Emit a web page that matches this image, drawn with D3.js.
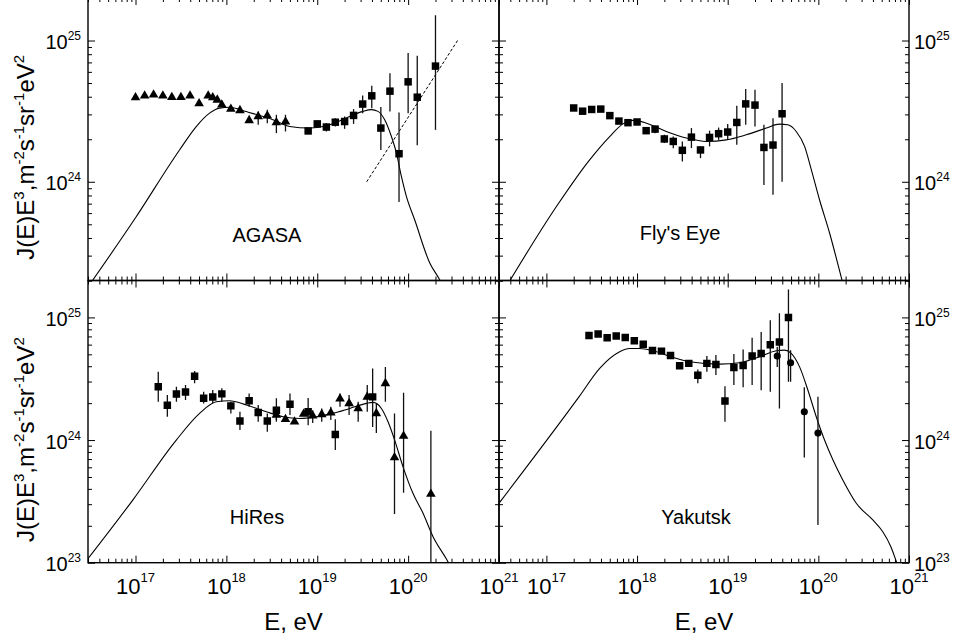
<!DOCTYPE html>
<html>
<head>
<meta charset="utf-8">
<script src="https://cdn.jsdelivr.net/npm/d3@7"></script>
<style>
  body { margin: 0; background: #fff; }
  svg { display: block; }
</style>
</head>
<body>
<svg id="chart" width="953" height="640"></svg>
<script>
const FONT = "'Liberation Sans', Arial, Helvetica, sans-serif";

// ---- axis setup ----
const xDomain = [3e16, 1e21];
const xTickExps = ["17", "18", "19", "20", "21"];
const yTickExps = ["23", "24", "25"];
const xTitle = "E, eV";
const yTitleParts = [
    ["J(E)E", false], ["3", true], [",m", false], ["-2", true], ["s", false],
    ["-1", true], ["sr", false], ["-1", true], ["eV", false], ["2", true],
];

// ---- AGASA ----
const agasaTriE = [1.0e17, 1.26e17, 1.58e17, 2.0e17, 2.51e17, 3.16e17, 3.98e17, 5.01e17, 6.31e17, 7.08e17,
    7.94e17, 8.91e17, 1.12e18, 1.41e18, 1.78e18, 2.24e18, 2.82e18, 3.55e18, 4.47e18];
const agasaTriJ = [3.95e24, 4.06e24, 4.13e24, 4.06e24, 3.97e24, 3.97e24, 4.06e24, 3.58e24, 4.06e24, 3.95e24,
    3.80e24, 3.51e24, 3.27e24, 3.20e24, 2.72e24, 2.90e24, 2.93e24, 2.63e24, 2.66e24];
const agasaTriLo = [null, null, null, null, null, null, null, null, null, null,
    null, null, null, null, null, 2.53e24, 2.60e24, 2.21e24, 2.27e24];
const agasaTriHi = [null, null, null, null, null, null, null, null, null, null,
    null, null, null, null, null, 3.15e24, 3.24e24, 2.98e24, 2.98e24];

const agasaSqE = [7.94e18, 1.0e19, 1.26e19, 1.58e19, 2.0e19, 2.51e19, 3.16e19, 3.98e19, 5.01e19, 6.31e19,
    7.94e19, 1.0e20, 1.26e20, 2.0e20];
const agasaSqJ = [2.29e24, 2.57e24, 2.44e24, 2.64e24, 2.67e24, 2.95e24, 3.55e24, 4.06e24, 2.40e24, 4.38e24,
    1.58e24, 5.10e24, 3.97e24, 6.59e24];
const agasaSqLo = [null, null, 2.27e24, 2.46e24, 2.37e24, 2.57e24, 3.06e24, 3.32e24, 1.68e24, 3.15e24,
    7.2e23, 3.06e24, 1.81e24, 2.33e24];
const agasaSqHi = [null, null, 2.60e24, 2.82e24, 2.90e24, 3.27e24, 4.08e24, 4.78e24, 3.38e24, 5.87e24,
    3.09e24, 8.15e24, 7.8e24, 1.51e25];

const agasaFitE = [3.5e19, 3.5e20];
const agasaFitJ = [1.0e24, 1.0e25];

const agasaCurveE = [2.82e16, 1.0e17, 3.05e17, 4.66e17, 6.53e17, 8.41e17, 1.08e18, 1.65e18, 3.25e18, 4.97e18,
    8.24e18, 1.37e19, 2.28e19, 3.18e19, 3.94e19, 4.66e19, 5.52e19, 6.55e19, 7.43e19, 8.43e19,
    9.57e19, 1.18e20, 1.73e20, 2.23e20, 2.5e20];
const agasaCurveJ = [1.7e23, 5.56e23, 1.68e24, 2.46e24, 3.06e24, 3.32e24, 3.37e24, 3.14e24, 2.75e24, 2.46e24,
    2.40e24, 2.53e24, 2.90e24, 3.15e24, 3.24e24, 3.15e24, 2.75e24, 2.09e24, 1.60e24, 1.09e24,
    7.87e23, 5.38e23, 2.66e23, 2.02e23, 1.75e23];

// ---- Fly's Eye ----
const flysE = [2.0e17, 2.51e17, 3.16e17, 3.98e17, 5.01e17, 6.31e17, 7.94e17, 1.0e18, 1.26e18, 1.58e18,
    2.0e18, 2.51e18, 3.16e18, 3.98e18, 5.01e18, 6.31e18, 7.94e18, 1.0e19, 1.26e19, 1.58e19,
    2.0e19, 2.51e19, 3.16e19, 3.98e19];
const flysJ = [3.33e24, 3.16e24, 3.25e24, 3.27e24, 2.94e24, 2.69e24, 2.62e24, 2.65e24, 2.30e24, 2.36e24,
    2.01e24, 1.93e24, 1.67e24, 2.07e24, 1.68e24, 2.06e24, 2.19e24, 2.25e24, 2.63e24, 3.56e24,
    3.49e24, 1.75e24, 1.82e24, 3.03e24];
const flysLo = [null, null, null, null, null, null, null, null, null, 2.21e24,
    1.88e24, 1.73e24, 1.39e24, 1.73e24, 1.47e24, 1.78e24, 1.98e24, 1.98e24, 1.83e24, 2.53e24,
    2.46e24, 9.5e23, 8.1e23, 1.0e24];
const flysHi = [null, null, null, null, null, null, null, null, null, 2.49e24,
    2.15e24, 2.09e24, 1.93e24, 2.40e24, 1.78e24, 2.30e24, 2.42e24, 2.56e24, 3.45e24, 4.53e24,
    4.48e24, 2.53e24, 2.82e24, 5.0e24];

const flysCurveE = [3.55e16, 1.29e17, 3.0e17, 4.99e17, 7.0e17, 9.02e17, 1.27e18, 2.10e18, 3.50e18, 5.81e18,
    9.66e18, 1.60e19, 2.67e19, 3.73e19, 4.61e19, 5.70e19, 7.05e19, 8.36e19, 1.03e20, 1.33e20,
    1.82e20, 2.0e20];
const flysCurveJ = [1.78e23, 6.68e23, 1.43e24, 2.09e24, 2.57e24, 2.72e24, 2.60e24, 2.27e24, 2.04e24, 1.93e24,
    1.98e24, 2.15e24, 2.40e24, 2.56e24, 2.53e24, 2.27e24, 1.78e24, 1.22e24, 7.46e23, 4.34e23,
    2.02e23, 1.6e23];

// ---- HiRes ----
const hiresSqE = [1.78e17, 2.24e17, 2.82e17, 3.55e17, 4.47e17, 5.62e17, 7.08e17, 8.91e17, 1.12e18, 1.41e18,
    1.78e18, 2.24e18, 2.82e18, 3.55e18, 5.01e18, 7.94e18, 1.58e19, 4.07e19];
const hiresSqJ = [2.72e24, 1.92e24, 2.37e24, 2.46e24, 3.32e24, 2.19e24, 2.24e24, 2.38e24, 1.90e24, 1.43e24,
    2.09e24, 1.68e24, 1.43e24, 1.75e24, 1.96e24, 1.70e24, 1.11e24, 2.25e24];
const hiresSqLo = [2.05e24, 1.55e24, 2.05e24, 2.12e24, 2.90e24, 1.99e24, 1.99e24, 2.05e24, 1.65e24, 1.21e24,
    1.87e24, 1.41e24, 1.17e24, 1.46e24, 1.60e24, 1.32e24, 8.3e23, 1.28e24];
const hiresSqHi = [3.60e24, 2.33e24, 2.72e24, 2.81e24, 3.65e24, 2.48e24, 2.56e24, 2.64e24, 2.05e24, 1.70e24,
    2.40e24, 1.93e24, 1.65e24, 2.19e24, 2.40e24, 2.20e24, 1.48e24, 3.84e24];

const hiresTriE = [3.55e18, 4.47e18, 5.62e18, 7.08e18, 8.91e18, 1.12e19, 1.41e19, 1.78e19, 2.24e19, 2.82e19,
    3.55e19, 4.47e19, 5.62e19, 7.08e19, 8.91e19, 1.78e20];
const hiresTriJ = [1.60e24, 1.48e24, 1.41e24, 1.63e24, 1.58e24, 1.62e24, 1.67e24, 2.17e24, 1.99e24, 1.81e24,
    2.25e24, 1.65e24, 2.90e24, 7.2e23, 1.08e24, 3.63e23];
const hiresTriLo = [1.41e24, null, null, null, 1.38e24, 1.41e24, 1.46e24, 1.87e24, 1.60e24, 1.41e24,
    1.70e24, 1.14e24, 2.05e24, 2.49e23, 3.72e23, 5e22];
const hiresTriHi = [1.87e24, null, null, null, 1.75e24, 1.81e24, 1.87e24, 2.40e24, 2.33e24, 2.05e24,
    2.81e24, 1.99e24, 3.95e24, 1.65e24, 2.43e24, 1.19e24];

const hiresCurveE = [2.51e16, 9.33e16, 2.81e17, 5.07e17, 7.74e17, 1.08e18, 1.66e18, 2.75e18, 4.19e18, 6.40e18,
    9.77e18, 1.49e19, 2.28e19, 3.48e19, 4.10e19, 5.08e19, 6.01e19, 7.11e19, 8.79e19, 1.13e20,
    1.46e20, 1.88e20, 2.64e20, 2.82e20];
const hiresCurveJ = [9.1e22, 3.24e23, 1.0e24, 1.65e24, 2.05e24, 2.09e24, 1.93e24, 1.70e24, 1.55e24, 1.50e24,
    1.55e24, 1.65e24, 1.81e24, 1.99e24, 2.03e24, 1.81e24, 1.41e24, 1.0e24, 6.05e23, 3.68e23,
    2.53e23, 1.63e23, 1.07e23, 9.8e22];

// ---- Yakutsk ----
const yakSqE = [2.95e17, 3.72e17, 4.68e17, 5.89e17, 7.41e17, 9.33e17, 1.17e18, 1.48e18, 1.86e18, 2.34e18,
    2.95e18, 3.72e18, 4.68e18, 5.89e18, 7.41e18, 9.33e18, 1.17e19, 1.48e19, 1.86e19, 2.34e19,
    2.95e19, 3.72e19, 4.68e19];
const yakSqJ = [7.13e24, 7.31e24, 6.82e24, 7.04e24, 6.87e24, 6.44e24, 6.03e24, 5.38e24, 5.31e24, 4.90e24,
    4.03e24, 4.22e24, 3.37e24, 4.22e24, 4.14e24, 2.08e24, 3.91e24, 4.06e24, 4.84e24, 5.09e24,
    5.98e24, 6.29e24, 1.0e25];
const yakSqLo = [null, null, null, null, null, null, null, null, null, null,
    null, null, 2.90e24, 3.60e24, 3.39e24, 1.41e24, 2.81e24, 2.69e24, 2.81e24, 2.55e24,
    2.48e24, 1.81e24, 2.99e24];
const yakSqHi = [null, null, null, null, null, null, null, null, null, null,
    null, null, 3.77e24, 4.84e24, 4.93e24, 2.75e24, 5.02e24, 5.48e24, 6.84e24, 7.59e24,
    9.5e24, 1.08e25, 1.69e25];

const yakCircE = [3.52e19, 4.94e19, 7.0e19, 9.9e19];
const yakCircJ = [4.84e24, 4.27e24, 1.70e24, 1.14e24];
const yakCircLo = [3.95e24, 2.99e24, 7.2e23, 2.03e23];
const yakCircHi = [5.75e24, 5.41e24, 2.69e24, 2.25e24];

const yakCurveE = [2.51e16, 2.33e17, 3.87e17, 6.43e17, 8.28e17, 1.07e18, 1.50e18, 2.49e18, 3.80e18, 8.15e18,
    1.35e19, 2.25e19, 3.44e19, 4.24e19, 5.02e19, 6.21e19, 7.66e19, 9.48e19, 1.17e20, 1.45e20,
    1.86e20, 2.62e20, 3.99e20, 5.14e20, 6.31e20, 7.33e20, 7.94e20];
const yakCurveJ = [2.57e23, 2.29e24, 3.84e24, 5.25e24, 5.58e24, 5.58e24, 5.35e24, 4.72e24, 4.35e24, 4.16e24,
    4.27e24, 4.78e24, 5.35e24, 5.41e24, 5.09e24, 3.95e24, 2.56e24, 1.55e24, 1.0e24, 6.87e23,
    4.72e23, 3.05e23, 2.23e23, 1.79e23, 1.35e23, 1.0e23, 8.5e22];

// ---- panel layout ----
const panels = [
    {
        id: "agasa", label: "AGASA", lx: 267, ly: 242,
        x0: 88, x1: 499, y0: -2, y1: 280.5, yDomain: [2e23, 2e25], side: "left", xLabels: false,
        curveE: agasaCurveE, curveJ: agasaCurveJ, fitE: agasaFitE, fitJ: agasaFitJ,
        series: [
            { shape: "triangle", E: agasaTriE, J: agasaTriJ, lo: agasaTriLo, hi: agasaTriHi },
            { shape: "square", E: agasaSqE, J: agasaSqJ, lo: agasaSqLo, hi: agasaSqHi },
        ],
    },
    {
        id: "flys", label: "Fly's Eye", lx: 680, ly: 240,
        x0: 499, x1: 909, y0: -2, y1: 280.5, yDomain: [2e23, 2e25], side: "right", xLabels: false,
        curveE: flysCurveE, curveJ: flysCurveJ,
        series: [
            { shape: "square", E: flysE, J: flysJ, lo: flysLo, hi: flysHi },
        ],
    },
    {
        id: "hires", label: "HiRes", lx: 257, ly: 524,
        x0: 88, x1: 499, y0: 280.5, y1: 562.7, yDomain: [1e23, 2e25], side: "left", xLabels: true,
        curveE: hiresCurveE, curveJ: hiresCurveJ,
        series: [
            { shape: "square", E: hiresSqE, J: hiresSqJ, lo: hiresSqLo, hi: hiresSqHi },
            { shape: "triangle", E: hiresTriE, J: hiresTriJ, lo: hiresTriLo, hi: hiresTriHi },
        ],
    },
    {
        id: "yak", label: "Yakutsk", lx: 696, ly: 524,
        x0: 499, x1: 909, y0: 280.5, y1: 562.7, yDomain: [1e23, 2e25], side: "right", xLabels: true,
        curveE: yakCurveE, curveJ: yakCurveJ,
        series: [
            { shape: "square", E: yakSqE, J: yakSqJ, lo: yakSqLo, hi: yakSqHi },
            { shape: "circle", E: yakCircE, J: yakCircJ, lo: yakCircLo, hi: yakCircHi },
        ],
    },
];

const svg = d3.select("#chart");
svg.append("rect").attr("width", 953).attr("height", 640).attr("fill", "#fff");

function logTicks(lo, hi) {
    const major = [], minor = [];
    for (let e = Math.floor(Math.log10(lo)); e <= Math.ceil(Math.log10(hi)); e++) {
        for (let k = 1; k < 10; k++) {
            const v = k * Math.pow(10, e);
            if (v < lo * 0.999 || v > hi * 1.001) continue;
            (k === 1 ? major : minor).push(v);
        }
    }
    return { major, minor };
}

function tickSide(g, axisFn, scale, vals, size, transform) {
    const a = g.append("g")
        .attr("transform", transform)
        .call(axisFn(scale).tickValues(vals).tickSize(-size).tickFormat(""));
    a.select(".domain").remove();
    a.selectAll(".tick line").attr("stroke", "#000").attr("stroke-width", 1);
}

function powLabel(g, x, y, exp, size, supSize, supDy, anchor) {
    const t = g.append("text")
        .attr("x", x).attr("y", y)
        .attr("text-anchor", anchor)
        .style("font-family", FONT)
        .style("font-size", size + "px")
        .attr("fill", "#000");
    t.append("tspan").text("10");
    t.append("tspan").attr("dy", supDy).style("font-size", supSize + "px").text(exp);
}

const symbolTypes = {
    square: d3.symbol(d3.symbolSquare, 56),
    triangle: d3.symbol(d3.symbolTriangle, 40),
    circle: d3.symbol(d3.symbolCircle, 40),
};

panels.forEach((p) => {
    const x = d3.scaleLog().domain(xDomain).range([p.x0, p.x1]);
    const y = d3.scaleLog().domain(p.yDomain).range([p.y1, p.y0]);
    const g = svg.append("g");

    const clipId = "clip-" + p.id;
    svg.append("clipPath").attr("id", clipId)
        .append("rect")
        .attr("x", p.x0).attr("y", p.y0)
        .attr("width", p.x1 - p.x0).attr("height", p.y1 - p.y0);

    const plot = g.append("g").attr("clip-path", `url(#${clipId})`);

    // model curve
    const curvePts = p.curveE.map((e, i) => [e, p.curveJ[i]]);
    plot.append("path")
        .datum(curvePts)
        .attr("fill", "none")
        .attr("stroke", "#000")
        .attr("stroke-width", 1.1)
        .attr("d", d3.line().x((d) => x(d[0])).y((d) => y(d[1])).curve(d3.curveMonotoneX));

    // dashed power-law fit (AGASA only)
    if (p.fitE) {
        const fitPts = p.fitE.map((e, i) => [e, p.fitJ[i]]);
        plot.append("path")
            .datum(fitPts)
            .attr("fill", "none")
            .attr("stroke", "#000")
            .attr("stroke-width", 1)
            .attr("stroke-dasharray", "3,2")
            .attr("d", d3.line().x((d) => x(d[0])).y((d) => y(d[1])));
    }

    // error bars, then markers
    p.series.forEach((s) => {
        const pts = s.E.map((e, i) => ({ e, j: s.J[i], lo: s.lo[i], hi: s.hi[i] }));
        plot.selectAll(null)
            .data(pts.filter((d) => d.lo !== null))
            .join("line")
            .attr("x1", (d) => x(d.e)).attr("x2", (d) => x(d.e))
            .attr("y1", (d) => y(d.lo)).attr("y2", (d) => y(d.hi))
            .attr("stroke", "#111")
            .attr("stroke-width", 1.3);
        plot.selectAll(null)
            .data(pts)
            .join("path")
            .attr("transform", (d) => `translate(${x(d.e)},${y(d.j)})`)
            .attr("d", symbolTypes[s.shape]())
            .attr("fill", "#000");
    });

    // frame
    g.append("rect")
        .attr("x", p.x0).attr("y", p.y0)
        .attr("width", p.x1 - p.x0).attr("height", p.y1 - p.y0)
        .attr("fill", "none")
        .attr("stroke", "#000")
        .attr("stroke-width", 1.4);

    // inward ticks on all four sides
    const xt = logTicks(xDomain[0], xDomain[1]);
    const yt = logTicks(p.yDomain[0], p.yDomain[1]);
    [[xt.major, 7], [xt.minor, 4]].forEach(([vals, size]) => {
        tickSide(g, d3.axisBottom, x, vals, size, `translate(0,${p.y1})`);
        tickSide(g, d3.axisTop, x, vals, size, `translate(0,${p.y0})`);
    });
    [[yt.major, 7], [yt.minor, 4]].forEach(([vals, size]) => {
        tickSide(g, d3.axisLeft, y, vals, size, `translate(${p.x0},0)`);
        tickSide(g, d3.axisRight, y, vals, size, `translate(${p.x1},0)`);
    });

    // y tick labels
    yTickExps.forEach((exp) => {
        const v = Math.pow(10, +exp);
        if (v < p.yDomain[0] * 0.999) return;
        if (p.side === "left") {
            powLabel(g, p.x0 - 7, y(v) + 8.5, exp, 20, 12, -9, "end");
        } else {
            powLabel(g, p.x1 + 5, y(v) + 8.5, exp, 20, 12, -9, "start");
        }
    });

    // x tick labels + title
    if (p.xLabels) {
        xTickExps.forEach((exp) => {
            powLabel(g, x(Math.pow(10, +exp)), 594, exp, 22, 13, -12, "middle");
        });
        g.append("text")
            .attr("x", (p.x0 + p.x1) / 2).attr("y", 630)
            .attr("text-anchor", "middle")
            .style("font-family", FONT).style("font-size", "24px")
            .text(xTitle);
    }

    // y title on the left panels
    if (p.side === "left") {
        const t = g.append("text")
            .attr("transform", `translate(34,${(p.y0 + p.y1) / 2 + 18}) rotate(-90)`)
            .attr("text-anchor", "middle")
            .style("font-family", FONT).style("font-size", "24px");
        let raised = false;
        yTitleParts.forEach(([txt, sup]) => {
            const ts = t.append("tspan").text(txt);
            if (sup && !raised) { ts.attr("dy", -10); raised = true; }
            if (!sup && raised) { ts.attr("dy", 10); raised = false; }
            ts.style("font-size", sup ? "15px" : "24px");
        });
    }

    // panel name
    g.append("text")
        .attr("x", p.lx).attr("y", p.ly)
        .attr("text-anchor", "middle")
        .style("font-family", FONT).style("font-size", "20px")
        .text(p.label);
});
</script>
</body>
</html>
